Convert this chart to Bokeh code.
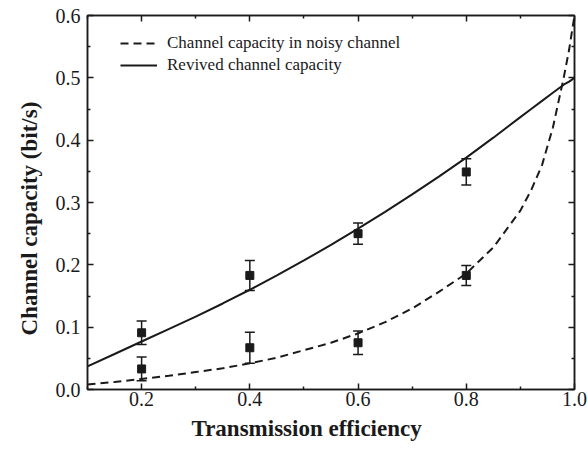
from bokeh.plotting import figure
from bokeh.models import (LinearAxis, FixedTicker, Legend, LegendItem, Title, Whisker,
                          TeeHead, ColumnDataSource, Range1d, CustomJSTickFormatter)
from bokeh.embed import file_html
from bokeh.resources import INLINE

# ---- data ----
eta_curve = [0.10, 0.15, 0.20, 0.25, 0.30, 0.35, 0.40, 0.45, 0.50, 0.55, 0.60, 0.65,
             0.70, 0.75, 0.80, 0.85, 0.90, 0.92, 0.94, 0.96, 0.98, 0.99, 1.00]
revived_curve = [0.037, 0.057, 0.077, 0.097, 0.117, 0.138, 0.160, 0.183, 0.207, 0.232, 0.258, 0.285,
                 0.313, 0.342, 0.372, 0.404, 0.437, 0.450, 0.463, 0.476, 0.489, 0.494, 0.500]
noisy_curve = [0.008, 0.012, 0.017, 0.022, 0.028, 0.034, 0.042, 0.051, 0.063, 0.075, 0.090, 0.108,
               0.130, 0.157, 0.186, 0.228, 0.287, 0.320, 0.360, 0.420, 0.500, 0.545, 0.600]

eta_pts = [0.2, 0.4, 0.6, 0.8]
revived_pts = [0.091, 0.183, 0.250, 0.349]
revived_err = [0.019, 0.024, 0.017, 0.021]
noisy_pts = [0.033, 0.067, 0.075, 0.183]
noisy_err = [0.019, 0.025, 0.019, 0.016]

x_major = [0.2, 0.4, 0.6, 0.8, 1.0]
x_minor = [0.1, 0.3, 0.5, 0.7, 0.9]
y_major = [0.0, 0.1, 0.2, 0.3, 0.4, 0.5, 0.6]
y_minor = [0.05, 0.15, 0.25, 0.35, 0.45, 0.55]

legend_noisy = "Channel capacity in noisy channel"
legend_revived = "Revived channel capacity"
x_title = "Transmission efficiency"
y_title = "Channel capacity (bit/s)"

SERIF = "Liberation Serif"
INK = "#1a1a1a"

p = figure(width=587, height=459, output_backend="svg", toolbar_location=None,
           x_range=Range1d(0.1, 1.0), y_range=Range1d(0.0, 0.6),
           min_border_left=87, min_border_right=13, min_border_top=15, min_border_bottom=70)
p.grid.visible = False
p.outline_line_color = INK
p.outline_line_width = 1.5
p.background_fill_color = "white"
p.border_fill_color = "white"

def style_axis(ax, major, minor, labels=True):
    ax.ticker = FixedTicker(ticks=major, minor_ticks=minor)
    ax.axis_line_color = INK
    ax.axis_line_width = 1.5
    ax.major_tick_in = 6
    ax.major_tick_out = 0
    ax.minor_tick_in = 3
    ax.minor_tick_out = 0
    ax.major_tick_line_width = 1.5
    ax.minor_tick_line_width = 1.5
    ax.major_tick_line_color = INK
    ax.minor_tick_line_color = INK
    if labels:
        ax.formatter = CustomJSTickFormatter(code="return tick.toFixed(1);")
        ax.major_label_text_font = SERIF
        ax.major_label_text_font_size = "20px"
        ax.major_label_text_color = INK
    else:
        ax.formatter = CustomJSTickFormatter(code="return '';")
        ax.major_label_text_font_size = "0px"
        ax.major_label_standoff = 0

style_axis(p.xaxis[0], x_major, x_minor)
p.xaxis[0].major_label_standoff = 2
style_axis(p.yaxis[0], y_major, y_minor)
p.yaxis[0].major_label_standoff = 7

top = LinearAxis()
style_axis(top, x_major, x_minor, labels=False)
p.add_layout(top, "above")
right = LinearAxis()
style_axis(right, y_major, y_minor, labels=False)
p.add_layout(right, "right")

# curves
r_noisy = p.line(eta_curve, noisy_curve, line_color=INK, line_width=2, line_dash="8 5")
r_rev = p.line(eta_curve, revived_curve, line_color=INK, line_width=2)

# error bars
src_r = ColumnDataSource(dict(x=eta_pts, y=revived_pts,
                              lo=[v - e for v, e in zip(revived_pts, revived_err)],
                              hi=[v + e for v, e in zip(revived_pts, revived_err)]))
src_n = ColumnDataSource(dict(x=eta_pts, y=noisy_pts,
                              lo=[v - e for v, e in zip(noisy_pts, noisy_err)],
                              hi=[v + e for v, e in zip(noisy_pts, noisy_err)]))
for src in (src_r, src_n):
    w = Whisker(base="x", upper="hi", lower="lo", source=src, dimension="height",
                line_color=INK, line_width=1.5,
                upper_head=TeeHead(size=10, line_color=INK, line_width=1.5),
                lower_head=TeeHead(size=10, line_color=INK, line_width=1.5))
    p.add_layout(w)
    p.scatter("x", "y", source=src, marker="square", size=8, fill_color=INK, line_color=INK)

legend = Legend(items=[LegendItem(label=legend_noisy, renderers=[r_noisy]),
                       LegendItem(label=legend_revived, renderers=[r_rev])],
                location=(33, 313), orientation="vertical",
                padding=0, margin=0, spacing=0, label_height=22, glyph_height=22,
                glyph_width=37, label_standoff=10,
                label_text_font=SERIF, label_text_font_size="17px", label_text_color=INK,
                border_line_color=None, background_fill_alpha=0)
p.add_layout(legend, "center")

p.add_layout(Title(text=x_title, align="left", offset=104, standoff=10,
                   text_font=SERIF, text_font_style="bold",
                   text_font_size="23px", text_color=INK), "below")
p.add_layout(Title(text=y_title, align="left", offset=54, standoff=21,
                   text_font=SERIF, text_font_style="bold",
                   text_font_size="23px", text_color=INK), "left")

open("out.html", "w").write(file_html(p, INLINE))
